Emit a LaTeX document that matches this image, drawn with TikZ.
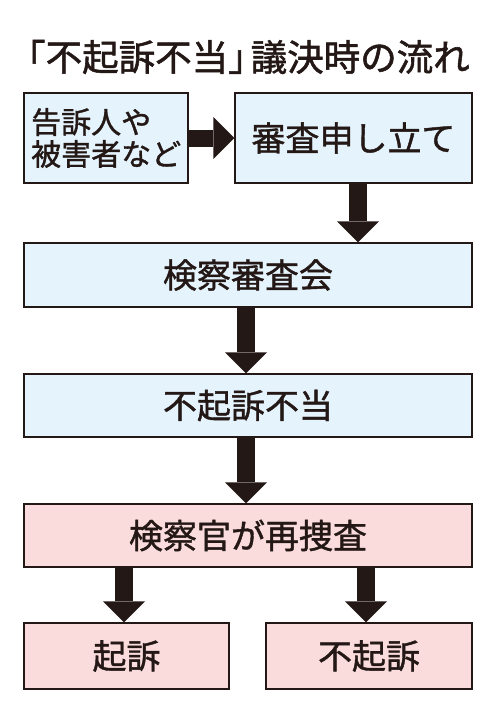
\documentclass[tikz,border=0pt]{standalone}
\usepackage{fontspec}
\setmainfont{Noto Sans CJK JP}[FakeBold=1.2]
\newfontfamily\titlefont{Noto Sans CJK JP}[FakeBold=1.5]
\usetikzlibrary{arrows.meta}
\definecolor{boxblue}{HTML}{E5F3FC}
\definecolor{boxpink}{HTML}{FADCDC}
\definecolor{ink}{HTML}{231815}
\begin{document}
\begin{tikzpicture}[x=1pt,y=-1pt,
  box/.style={draw=ink, line width=1.3pt, inner sep=0pt, font=\fontsize{34pt}{38pt}\selectfont, text=ink},
  bluebox/.style={box, fill=boxblue},
  pinkbox/.style={box, fill=boxpink},
  blockarrow/.style={draw=ink, line width=18pt, -{Triangle[width=42pt,length=21pt,line width=0pt]}},
]
\useasboundingbox (0,0) rectangle (484,702);
\node[font=\titlefont\fontsize{36.5pt}{38pt}\selectfont, text=ink, anchor=west, inner sep=0pt] (title) at (9,57) {「不起訴不当」\kern-14pt 議決時の流れ};
\node[bluebox, minimum width=164pt, minimum height=90pt] (b1) at (106,138) {};
\node[font=\fontsize{30pt}{32pt}\selectfont, text=ink, align=left, anchor=west, inner sep=0pt] (b1t) at (31,138) {告訴人や\\被害者など};
\node[bluebox, minimum width=237pt, minimum height=90pt] (b2) at (353.5,138) {審査申し立て};
\node[bluebox, minimum width=448pt, minimum height=64pt] (b3) at (248,275) {検察審査会};
\node[bluebox, minimum width=448pt, minimum height=63pt] (b4) at (248,405.5) {不起訴不当};
\node[pinkbox, minimum width=448pt, minimum height=63pt] (b5) at (248,535.5) {検察官が再捜査};
\node[pinkbox, minimum width=205pt, minimum height=66pt] (b6) at (126.5,656) {起訴};
\node[pinkbox, minimum width=206pt, minimum height=66pt] (b7) at (369,656) {不起訴};
\coordinate (xa) at (358,0);
\coordinate (xb) at (246,0);
\coordinate (xc) at (124,0);
\coordinate (xd) at (366,0);
\draw[blockarrow, line width=17pt] (b1.east) -- (b2.west);
\draw[blockarrow] (b2.south -| xa) -- (b3.north -| xa);
\draw[blockarrow] (b3.south -| xb) -- (b4.north -| xb);
\draw[blockarrow] (b4.south -| xb) -- (b5.north -| xb);
\draw[blockarrow] (b5.south -| xc) -- (b6.north -| xc);
\draw[blockarrow] (b5.south -| xd) -- (b7.north -| xd);
\end{tikzpicture}
\end{document}
